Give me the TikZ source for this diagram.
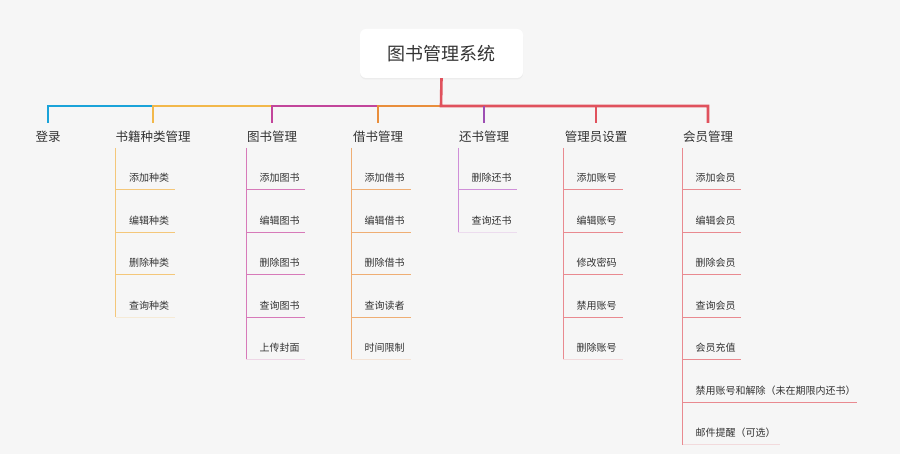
\documentclass[tikz,border=0pt]{standalone}
\usepackage{fontspec}
\setmainfont{Noto Sans CJK SC}
\usetikzlibrary{shadows}
\definecolor{bgc}{HTML}{F6F6F6}
\definecolor{txt}{HTML}{333333}
\definecolor{cblue}{HTML}{1AA3D9}
\definecolor{cyel}{HTML}{F2B84B}
\definecolor{cmag}{HTML}{C2459B}
\definecolor{cora}{HTML}{E98E3C}
\definecolor{cpur}{HTML}{9D4FB3}
\definecolor{cred}{HTML}{E0525D}
\definecolor{lyel}{HTML}{F4C77A}
\definecolor{lmag}{HTML}{D77AB9}
\definecolor{lora}{HTML}{EFAE74}
\definecolor{lpur}{HTML}{CF8FD8}
\definecolor{lred}{HTML}{E98A90}
\tikzset{
  rootbox/.style={fill=white, rounded corners=6pt, minimum width=163pt, minimum height=49pt,
    font=\fontsize{18}{20}\selectfont, text=txt, drop shadow={opacity=0.08, shadow xshift=0pt, shadow yshift=-1.5pt}},
  lbl/.style={font=\fontsize{12.5}{14}\selectfont, text=txt, inner sep=0pt},
  item/.style={font=\fontsize{10}{12}\selectfont, text=txt, inner sep=0pt, anchor=west},
  busline/.style={line width=2.6pt, line join=miter},
  itemline/.style={line width=0.9pt}
}
\newcommand\mybranch[6]{%
  \foreach \t [count=\k] in {#6} {
    \pgfmathsetmacro\yy{178+42.5*(\k-1)}
    \node[item] (#1\k) at (#2+13.5,\yy) {\t};
    \coordinate (#1u\k) at (#2,\yy+11.5);
    \coordinate (#1e\k) at (#3,\yy+11.5);
    \ifnum\k=#5\relax
      \draw[itemline,#4,opacity=0.25] (#1u\k) -- (#1e\k);
    \else
      \draw[itemline,#4] (#1u\k) -- (#1e\k);
    \fi
  }
  \coordinate (#1top) at (#2,148);
  \draw[itemline,#4] (#1top) -- (#1u#5);
}
\begin{document}
\begin{tikzpicture}[x=1pt,y=-1pt]
\fill[bgc] (0,0) rectangle (900,454);
\useasboundingbox (0,0) rectangle (900,454);

\node[rootbox] (root) at (441.5,53.5) {图书管理系统};
\coordinate (bus) at (441,106);

% children labels
\node[lbl] (c1) at (48,137) {登录};
\node[lbl] (c2) at (153,137) {书籍种类管理};
\node[lbl] (c3) at (272,137) {图书管理};
\node[lbl] (c4) at (378,137) {借书管理};
\node[lbl] (c5) at (484,137) {还书管理};
\node[lbl] (c6) at (596,137) {管理员设置};
\node[lbl] (c7) at (708,137) {会员管理};

\foreach \i/\x in {1/48,2/153,3/272,4/378,5/484,6/596,7/708} {
  \coordinate (t\i) at (\x,106);
  \coordinate (s\i) at (\x,123);
}

% bus
\draw[busline,cblue] (s1) -- (t1) -- (t2);
\draw[busline,cyel] (s2) -- (t2) -- (t3);
\draw[busline,cmag] (s3) -- (t3) -- (t4);
\draw[busline,cora] (s4) -- (t4) -- (bus);
\draw[busline,cred] (root.south) -- (bus) -- (t7) -- (s7);
\draw[busline,cpur] (t5) -- (s5);
\draw[busline,cred] (t6) -- (s6);

% branches
\mybranch{A}{115.5}{175}{lyel}{4}{添加种类,编辑种类,删除种类,查询种类}
\mybranch{B}{246}{305}{lmag}{5}{添加图书,编辑图书,删除图书,查询图书,上传封面}
\mybranch{C}{351}{411}{lora}{5}{添加借书,编辑借书,删除借书,查询读者,时间限制}
\mybranch{D}{458}{517}{lpur}{2}{删除还书,查询还书}
\mybranch{E}{563}{623}{lred}{5}{添加账号,编辑账号,修改密码,禁用账号,删除账号}
\mybranch{F}{682}{741}{lred}{7}{添加会员,编辑会员,删除会员,查询会员,会员充值,禁用账号和解除（未在期限内还书）,邮件提醒（可选）}

\coordinate (Fx6) at (857,402);
\draw[itemline,lred] (Fe6) -- (Fx6);
\coordinate (Fx7) at (780,444.5);
\draw[itemline,lred,opacity=0.25] (Fe7) -- (Fx7);
\end{tikzpicture}
\end{document}
